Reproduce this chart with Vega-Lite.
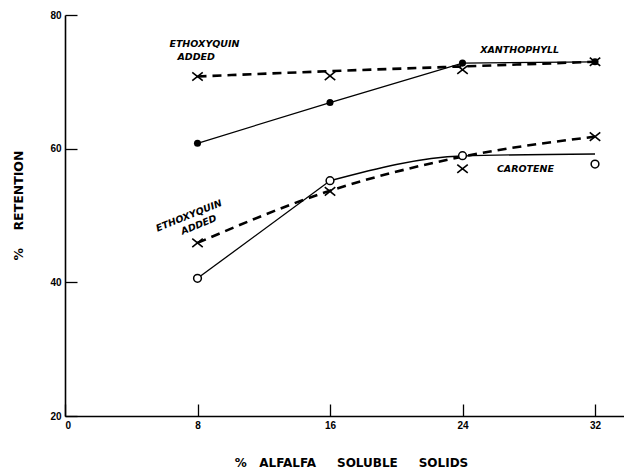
{
  "$schema": "https://vega.github.io/schema/vega-lite/v6.json",
  "width": 559,
  "height": 401,
  "autosize": {"type": "none"},
  "padding": {"left": 65, "top": 15, "right": 0, "bottom": 56},
  "background": "white",
  "config": {"view": {"stroke": null}, "font": "DejaVu Sans"},
  "datasets": {
    "curves": [
      {"x": 8, "y": 60.8, "series": "Xanthophyll"},
      {"x": 16, "y": 66.9, "series": "Xanthophyll"},
      {"x": 24, "y": 72.8, "series": "Xanthophyll"},
      {"x": 32, "y": 73.0, "series": "Xanthophyll"},
      {"x": 8, "y": 40.6, "series": "Carotene"},
      {"x": 16, "y": 55.2, "series": "Carotene"},
      {"x": 24, "y": 58.9, "series": "Carotene"},
      {"x": 32, "y": 59.2, "series": "Carotene"},
      {"x": 8, "y": 70.8, "series": "Xanthophyll + ethoxyquin"},
      {"x": 16, "y": 71.6, "series": "Xanthophyll + ethoxyquin"},
      {"x": 24, "y": 72.3, "series": "Xanthophyll + ethoxyquin"},
      {"x": 32, "y": 73.0, "series": "Xanthophyll + ethoxyquin"},
      {"x": 8, "y": 45.9, "series": "Carotene + ethoxyquin"},
      {"x": 16, "y": 53.7, "series": "Carotene + ethoxyquin"},
      {"x": 24, "y": 58.8, "series": "Carotene + ethoxyquin"},
      {"x": 32, "y": 61.8, "series": "Carotene + ethoxyquin"}
    ],
    "points": [
      {"x": 8, "y": 60.8, "series": "Xanthophyll"},
      {"x": 16, "y": 66.9, "series": "Xanthophyll"},
      {"x": 24, "y": 72.8, "series": "Xanthophyll"},
      {"x": 32, "y": 73.0, "series": "Xanthophyll"},
      {"x": 8, "y": 40.6, "series": "Carotene"},
      {"x": 16, "y": 55.2, "series": "Carotene"},
      {"x": 24, "y": 58.95, "series": "Carotene"},
      {"x": 32, "y": 57.7, "series": "Carotene"},
      {"x": 8, "y": 70.8, "series": "Xanthophyll + ethoxyquin"},
      {"x": 16, "y": 70.9, "series": "Xanthophyll + ethoxyquin"},
      {"x": 24, "y": 71.8, "series": "Xanthophyll + ethoxyquin"},
      {"x": 32, "y": 73.0, "series": "Xanthophyll + ethoxyquin"},
      {"x": 8, "y": 45.9, "series": "Carotene + ethoxyquin"},
      {"x": 16, "y": 53.6, "series": "Carotene + ethoxyquin"},
      {"x": 24, "y": 57.0, "series": "Carotene + ethoxyquin"},
      {"x": 32, "y": 61.8, "series": "Carotene + ethoxyquin"}
    ],
    "labels": [
      {"text": "ETHOXYQUIN", "x": 8.42, "y": 75.6},
      {"text": "ADDED", "x": 7.92, "y": 73.7},
      {"text": "XANTHOPHYLL", "x": 27.45, "y": 74.8},
      {"text": "CAROTENE", "x": 27.8, "y": 57.0}
    ],
    "rotlabels": [
      {"text": "ETHOXYQUIN", "x": 7.48, "y": 49.96},
      {"text": "ADDED", "x": 8.08, "y": 48.6}
    ]
  },
  "encoding": {
    "x": {
      "type": "quantitative",
      "scale": {"domain": [0, 33.75], "nice": false, "zero": false},
      "axis": {
        "title": "%\u00a0\u00a0\u00a0ALFALFA\u00a0\u00a0\u00a0\u00a0\u00a0SOLUBLE\u00a0\u00a0\u00a0\u00a0\u00a0SOLIDS",
        "titleFont": "DejaVu Sans", "titleFontSize": 12, "titleFontWeight": "bold",
        "titleColor": "black", "titlePadding": 27, "titleX": 286,
        "values": [0, 8, 16, 24, 32],
        "labelFont": "Liberation Sans", "labelFontSize": 10, "labelFontWeight": "bold", "labelColor": "black",
        "tickSize": -12, "tickColor": "black", "tickWidth": 1.3,
        "domainColor": "black", "domainWidth": 1.6, "grid": false, "labelPadding": 16
      }
    },
    "y": {
      "type": "quantitative",
      "scale": {"domain": [20, 80], "nice": false, "zero": false},
      "axis": {
        "title": "%\u00a0\u00a0\u00a0\u00a0RETENTION",
        "titleFont": "DejaVu Sans", "titleFontSize": 12.5, "titleFontWeight": "bold",
        "titleColor": "black", "titlePadding": 24, "titleY": 190,
        "values": [20, 40, 60, 80],
        "labelFont": "Liberation Sans", "labelFontSize": 10, "labelFontWeight": "bold", "labelColor": "black",
        "tickSize": -12, "tickColor": "black", "tickWidth": 1.3,
        "domainColor": "black", "domainWidth": 1.6, "grid": false, "labelPadding": 16
      }
    }
  },
  "layer": [
    {
      "mark": {"type": "rule", "color": "black", "strokeWidth": 1.6},
      "encoding": {"y": {"datum": 80}, "x": {"datum": 0}, "x2": {"datum": 33.75}}
    },
    {
      "data": {"name": "curves"},
      "transform": [{"filter": "datum.series == 'Xanthophyll'"}],
      "mark": {"type": "line", "color": "black", "strokeWidth": 1.3},
      "encoding": {"x": {"field": "x"}, "y": {"field": "y"}}
    },
    {
      "data": {"name": "curves"},
      "transform": [{"filter": "datum.series == 'Carotene' && datum.x <= 16"}],
      "mark": {"type": "line", "color": "black", "strokeWidth": 1.3},
      "encoding": {"x": {"field": "x"}, "y": {"field": "y"}}
    },
    {
      "data": {"name": "curves"},
      "transform": [{"filter": "datum.series == 'Carotene' && datum.x >= 16"}],
      "mark": {"type": "line", "color": "black", "strokeWidth": 1.3, "interpolate": "monotone"},
      "encoding": {"x": {"field": "x"}, "y": {"field": "y"}}
    },
    {
      "data": {"name": "curves"},
      "transform": [{"filter": "indexof(datum.series, 'ethoxyquin') >= 0"}],
      "mark": {"type": "line", "color": "black", "strokeWidth": 2.6, "strokeDash": [9, 6], "interpolate": "monotone"},
      "encoding": {"x": {"field": "x"}, "y": {"field": "y"}, "detail": {"field": "series"}}
    },
    {
      "data": {"name": "points"},
      "transform": [{"filter": "datum.series == 'Xanthophyll'"}],
      "mark": {"type": "point", "shape": "circle", "filled": true, "color": "black", "size": 50, "opacity": 1},
      "encoding": {"x": {"field": "x"}, "y": {"field": "y"}}
    },
    {
      "data": {"name": "points"},
      "transform": [{"filter": "datum.series == 'Carotene'"}],
      "mark": {"type": "point", "shape": "circle", "filled": true, "fill": "white", "stroke": "black", "strokeWidth": 1.5, "size": 60, "opacity": 1},
      "encoding": {"x": {"field": "x"}, "y": {"field": "y"}}
    },
    {
      "data": {"name": "points"},
      "transform": [{"filter": "indexof(datum.series, 'ethoxyquin') >= 0"}],
      "mark": {"type": "point", "shape": "M-1,-0.8L1,0.8M1,-0.8L-1,0.8", "filled": false, "stroke": "black", "strokeWidth": 1.6, "size": 110, "opacity": 1},
      "encoding": {"x": {"field": "x"}, "y": {"field": "y"}}
    },
    {
      "data": {"name": "labels"},
      "mark": {"type": "text", "font": "DejaVu Sans", "fontSize": 9.5, "fontWeight": "bold", "fontStyle": "italic", "color": "black", "align": "center", "baseline": "middle"},
      "encoding": {"x": {"field": "x"}, "y": {"field": "y"}, "text": {"field": "text"}}
    },
    {
      "data": {"name": "rotlabels"},
      "mark": {"type": "text", "font": "DejaVu Sans", "fontSize": 9.5, "fontWeight": "bold", "fontStyle": "italic", "color": "black", "align": "center", "baseline": "middle", "angle": -22},
      "encoding": {"x": {"field": "x"}, "y": {"field": "y"}, "text": {"field": "text"}}
    }
  ]
}
